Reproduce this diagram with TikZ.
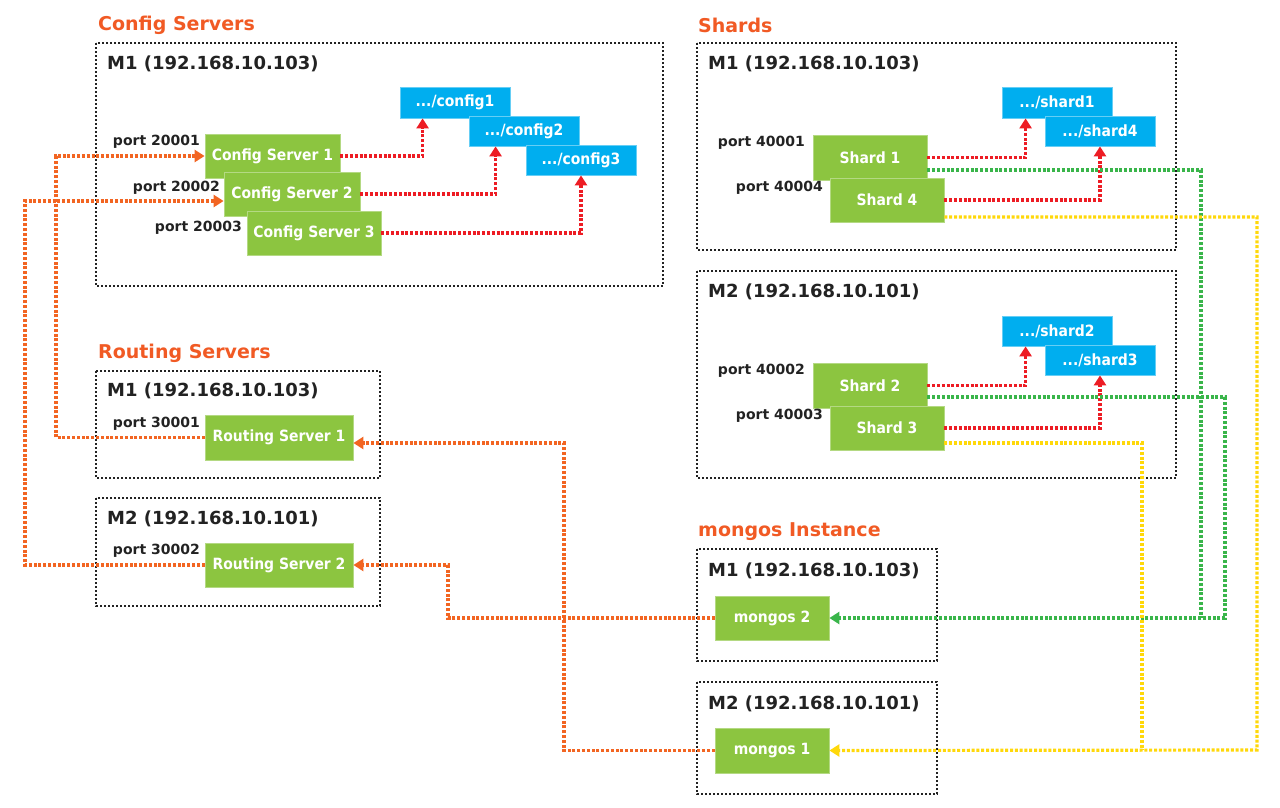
\documentclass[tikz,border=0pt]{standalone}
\usepackage{fontspec}
\setmainfont{DejaVu Sans}
\newfontfamily\condfont{DejaVu Sans Condensed}[BoldFont={DejaVu Sans Condensed Bold}]
\usetikzlibrary{arrows.meta,calc}

\definecolor{headc}{HTML}{F15A24}
\definecolor{boxgreen}{HTML}{8CC540}
\definecolor{boxblue}{HTML}{00AEEF}
\definecolor{lineorange}{HTML}{F26522}
\definecolor{linered}{HTML}{ED1C24}
\definecolor{linegreen}{HTML}{39B54A}
\definecolor{lineyellow}{HTML}{FFD80A}
\definecolor{textdark}{HTML}{222222}

\tikzset{
  machine/.style={draw=textdark, line width=1.8pt, dash pattern=on 1.8pt off 2.2pt},
  heading/.style={anchor=west, inner sep=0pt, text=headc, font=\fontsize{19}{22}\selectfont\bfseries},
  hostlabel/.style={anchor=west, inner sep=0pt, text=textdark, font=\fontsize{18}{22}\selectfont\bfseries},
  portlabel/.style={anchor=east, inner sep=0pt, text=textdark, font=\fontsize{14}{16}\selectfont\bfseries},
  procbox/.style={rectangle, fill=boxgreen, draw=boxgreen!65!white, line width=0.8pt,
    text=white, inner sep=0pt, font=\condfont\fontsize{15.5}{18}\selectfont\bfseries},
  databox/.style={rectangle, fill=boxblue, draw=boxblue!60!white, line width=0.8pt,
    text=white, inner sep=0pt, minimum width=110pt, minimum height=30pt,
    font=\condfont\fontsize{15.5}{18}\selectfont\bfseries},
  conn/.style={line width=3.2pt, dash pattern=on 3pt off 1.8pt},
  tip/.style={-{Triangle[length=10pt,width=12pt]}},
}

\begin{document}
\begin{tikzpicture}[x=1pt,y=-1pt]
\useasboundingbox[fill=white] (0,0) rectangle (1280,807);

% ---------- host frames ----------
\draw[machine] (96,43) rectangle (663,286);
\draw[machine] (96,371) rectangle (380,478);
\draw[machine] (96,498) rectangle (380,606);
\draw[machine] (697,43) rectangle (1176,250);
\draw[machine] (697,271) rectangle (1176,478);
\draw[machine] (697,549) rectangle (937,661);
\draw[machine] (697,682) rectangle (937,794);

% ---------- group headings ----------
\node[heading] (hcfg) at (98,25) {Config Servers};
\node[heading] (hrt) at (98,353) {Routing Servers};
\node[heading] (hsh) at (698,25) {Shards};
\node[heading] (hmo) at (698,532) {mongos Instance};

% ---------- host labels ----------
\node[hostlabel] (lcfg) at (107,64) {M1 (192.168.10.103)};
\node[hostlabel] (lrt1) at (107,391) {M1 (192.168.10.103)};
\node[hostlabel] (lrt2) at (107,519) {M2 (192.168.10.101)};
\node[hostlabel] (lsh1) at (708,64) {M1 (192.168.10.103)};
\node[hostlabel] (lsh2) at (708,292) {M2 (192.168.10.101)};
\node[hostlabel] (lmo1) at (708,571) {M1 (192.168.10.103)};
\node[hostlabel] (lmo2) at (708,704) {M2 (192.168.10.101)};

% ---------- data directories ----------
\node[databox, minimum height=31pt] (c1) at (455,102.5) {.../config1};
\node[databox] (c2) at (524,131) {.../config2};
\node[databox] (c3) at (581,160) {.../config3};
\node[databox, minimum height=31pt] (d1) at (1057,102.5) {.../shard1};
\node[databox] (d4) at (1100,131) {.../shard4};
\node[databox] (d2) at (1057,331) {.../shard2};
\node[databox] (d3) at (1100,360) {.../shard3};

% ---------- processes ----------
\node[procbox, minimum width=135pt, minimum height=44pt] (cs1) at (272.5,156) {Config Server 1};
\node[procbox, minimum width=136pt, minimum height=44pt] (cs2) at (292,194) {Config Server 2};
\node[procbox, minimum width=134pt, minimum height=44pt] (cs3) at (314,233) {Config Server 3};

\node[procbox, minimum width=148pt, minimum height=45pt] (rs1) at (279,437.5) {Routing Server 1};
\node[procbox, minimum width=148pt, minimum height=44pt] (rs2) at (279,565) {Routing Server 2};

\node[procbox, minimum width=114pt, minimum height=45pt] (sh1) at (870,157.5) {Shard 1};
\node[procbox, minimum width=114pt, minimum height=44pt] (sh4) at (887,200) {Shard 4};
\node[procbox, minimum width=114pt, minimum height=45pt] (sh2) at (870,385.5) {Shard 2};
\node[procbox, minimum width=114pt, minimum height=44pt] (sh3) at (887,428) {Shard 3};

\node[procbox, minimum width=114pt, minimum height=44pt] (mo2) at (772,618) {mongos 2};
\node[procbox, minimum width=114pt, minimum height=45pt] (mo1) at (772,750.5) {mongos 1};

% ---------- ports ----------
\node[portlabel] (p20001) at (200,142) {port 20001};
\node[portlabel] (p20002) at (220,188) {port 20002};
\node[portlabel] (p20003) at (242,228) {port 20003};
\node[portlabel] (p30001) at (200,424) {port 30001};
\node[portlabel] (p30002) at (200,551) {port 30002};
\node[portlabel] (p40001) at (805,143) {port 40001};
\node[portlabel] (p40004) at (823,188) {port 40004};
\node[portlabel] (p40002) at (805,371) {port 40002};
\node[portlabel] (p40003) at (823,416) {port 40003};

% ---------- routing columns ----------
\coordinate (colA) at (56,300);
\coordinate (colB) at (25,400);
\coordinate (colC) at (564,600);
\coordinate (colD) at (448,590);
\coordinate (gjoin) at (1201,618);
\coordinate (gbus) at (1225,618);
\coordinate (yjoin) at (1142,750);
\coordinate (ybus) at (1257,750);

% routers -> config servers
\draw[conn, lineorange, tip] (rs1.west) -| (colA) |- (cs1.west);
\draw[conn, lineorange, tip] (rs2.west) -| (colB) |- ($(cs2.west)+(0,7)$);

% mongos -> routers
\draw[conn, lineorange, tip] (mo1.west) -| (colC) |- ($(rs1.east)+(0,5.5)$);
\draw[conn, lineorange, tip] (mo2.west) -| (colD) |- (rs2.east);

% processes -> data directories
\draw[conn, linered, tip] (cs1.east) -| ($(c1.south west)+(23,0)$);
\draw[conn, linered, tip] (cs2.east) -| ($(c2.south west)+(27,0)$);
\draw[conn, linered, tip] (cs3.east) -| (c3.south);
\draw[conn, linered, tip] (sh1.east) -| ($(d1.south west)+(24,0)$);
\draw[conn, linered, tip] (sh4.east) -| (d4.south);
\draw[conn, linered, tip] (sh2.east) -| ($(d2.south west)+(24,0)$);
\draw[conn, linered, tip] (sh3.east) -| (d3.south);

% shards -> mongos
\draw[conn, linegreen] ($(sh1.east)+(0,12.5)$) -| (gjoin);
\draw[conn, linegreen, tip] ($(sh2.east)+(0,11.5)$) -| (gbus) -- (mo2.east);
\draw[conn, lineyellow] ($(sh3.east)+(0,15)$) -| (yjoin);
\draw[conn, lineyellow, tip] ($(sh4.east)+(0,17)$) -| (ybus) -- (mo1.east);
\end{tikzpicture}
\end{document}
